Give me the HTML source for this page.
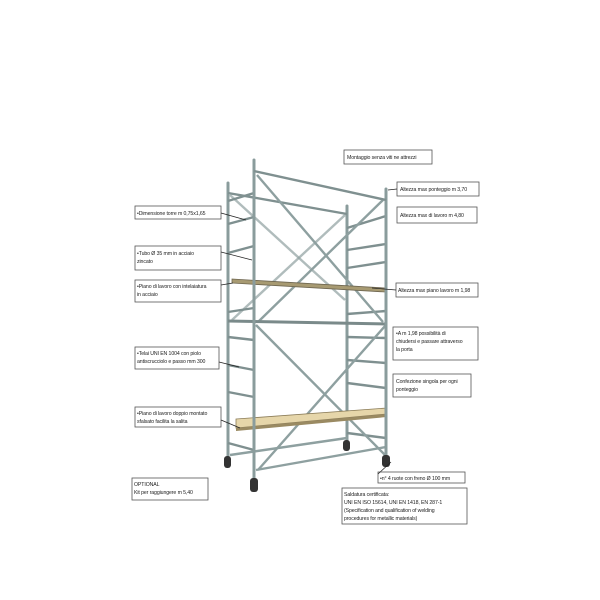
<!DOCTYPE html>
<html><head><meta charset="utf-8"><style>
html,body{margin:0;padding:0;background:#fff;}
svg{display:block}
text{font-family:"Liberation Sans",sans-serif;font-size:5.2px;letter-spacing:-0.1px;fill:#222;}
.b{fill:#fff;stroke:#555;stroke-width:0.8}
.p{stroke:#8a9c9c;stroke-width:3;stroke-linecap:round;fill:none}
.r{stroke:#7f9090;stroke-width:2.4;fill:none}
.d{stroke:#8ea0a0;stroke-width:2.4;fill:none}
.a{stroke:#222;stroke-width:0.7;fill:none}
</style></head><body>
<svg width="600" height="600" viewBox="0 0 600 600">
<line class="d" x1="230" y1="195" x2="345" y2="300" opacity="0.7"/>
<line class="d" x1="345" y1="215" x2="232" y2="320" opacity="0.7"/>
<line class="p" x1="228" y1="183" x2="228" y2="456"/>
<line class="p" x1="347" y1="206" x2="347" y2="443"/>
<line class="r" x1="228" y1="193" x2="347" y2="214"/>
<g class="r">
<line x1="228" y1="201" x2="254" y2="193"/><line x1="228" y1="224" x2="254" y2="217"/>
<line x1="228" y1="253" x2="254" y2="246"/><line x1="228" y1="312" x2="254" y2="308"/>
<line x1="228" y1="337" x2="254" y2="340"/><line x1="228" y1="365" x2="254" y2="370"/>
<line x1="228" y1="392" x2="254" y2="397"/><line x1="228" y1="443" x2="254" y2="450"/>
</g>
<g class="r">
<line x1="347" y1="228" x2="386" y2="216"/><line x1="347" y1="250" x2="386" y2="244"/>
<line x1="347" y1="268" x2="386" y2="262"/><line x1="347" y1="314" x2="386" y2="311"/>
<line x1="347" y1="337" x2="386" y2="338"/><line x1="347" y1="360" x2="386" y2="363"/>
<line x1="347" y1="383" x2="386" y2="388"/><line x1="347" y1="433" x2="386" y2="438"/>
</g>
<g class="d">
<line x1="257" y1="175" x2="383" y2="322"/><line x1="383" y1="200" x2="258" y2="322"/>
<line x1="256" y1="325" x2="385" y2="455"/><line x1="385" y1="326" x2="258" y2="470"/>
<line x1="256" y1="470" x2="386" y2="447"/><line x1="230" y1="455" x2="347" y2="438"/>
</g>
<line x1="228" y1="321" x2="386" y2="324" stroke="#7a8a8a" stroke-width="3"/>
<polygon points="232,279 385,288 385,292 232,283" fill="#a79a72" stroke="#6e6650" stroke-width="0.8"/>
<polygon points="236,419 387,408 387,414 236,428" fill="#e6d6aa" stroke="#8b7c58" stroke-width="0.8"/>
<polygon points="236,428 387,414 387,417 236,431" fill="#9a8a62"/>
<line class="p" x1="254" y1="160" x2="254" y2="478"/>
<line class="p" x1="386" y1="189" x2="386" y2="455"/>
<line class="r" x1="254" y1="171" x2="386" y2="200"/>
<g fill="#333">
<rect x="250" y="478" width="8" height="14" rx="3"/><rect x="224" y="456" width="7" height="12" rx="3"/>
<rect x="343" y="440" width="7" height="11" rx="3"/><rect x="382" y="455" width="8" height="12" rx="3"/>
</g>
<rect class="b" x="344" y="150" width="88" height="14"/><text x="347" y="159">Montaggio senza viti ne attrezzi</text>
<rect class="b" x="397" y="182" width="82" height="14"/><text x="400" y="191">Altezza max ponteggio m 3,70</text>
<line class="a" x1="397" y1="189" x2="388" y2="190"/>
<rect class="b" x="397" y="207" width="80" height="16"/><text x="400" y="217">Altezza max di lavoro m 4,80</text>
<rect class="b" x="135" y="206" width="86" height="13"/><text x="137" y="215">•Dimensione torre m 0,75x1,65</text>
<line class="a" x1="221" y1="213" x2="246" y2="220"/>
<rect class="b" x="135" y="246" width="86" height="24"/><text x="137" y="255">•Tubo Ø 35 mm in acciaio</text><text x="137" y="263">zincato</text>
<line class="a" x1="221" y1="252" x2="252" y2="260"/>
<rect class="b" x="135" y="280" width="86" height="22"/><text x="137" y="288">•Piano di lavoro con intelaiatura</text><text x="137" y="296">in acciaio</text>
<line class="a" x1="221" y1="285" x2="233" y2="283"/>
<rect class="b" x="396" y="283" width="82" height="14"/><text x="398" y="292">Altezza max piano lavoro m 1,98</text>
<line class="a" x1="396" y1="290" x2="372" y2="288"/>
<rect class="b" x="393" y="327" width="85" height="33"/><text x="396" y="335">•A m 1,98 possibilità di</text><text x="396" y="343">chiudersi e passare attraverso</text><text x="396" y="351">la porta</text>
<rect class="b" x="393" y="374" width="78" height="23"/><text x="396" y="383">Confezione singola per ogni</text><text x="396" y="391">ponteggio</text>
<rect class="b" x="135" y="347" width="84" height="22"/><text x="137" y="355">•Telai UNI EN 1004 con piolo</text><text x="137" y="363">antiscrucciolo e passo mm 300</text>
<line class="a" x1="219" y1="362" x2="239" y2="367"/>
<rect class="b" x="135" y="407" width="86" height="20"/><text x="137" y="415">•Piano di lavoro doppio montato</text><text x="137" y="423">sfalsato facilita la salita</text>
<line class="a" x1="221" y1="420" x2="240" y2="428"/>
<rect class="b" x="378" y="472" width="87" height="11"/><text x="380" y="480">•n° 4 ruote con freno Ø 100 mm</text>
<line class="a" x1="378" y1="474" x2="391" y2="462"/>
<rect class="b" x="132" y="478" width="76" height="22"/><text x="134" y="486">OPTIONAL</text><text x="134" y="494">Kit per raggiungere m 5,40</text>
<rect class="b" x="342" y="488" width="125" height="36"/>
<text x="344" y="496">Saldatura certificata:</text><text x="344" y="504">UNI EN ISO 15614, UNI EN 1418, EN 287-1</text>
<text x="344" y="512">(Specification and qualification of welding</text><text x="344" y="520">procedures for metallic materials)</text>
</svg>
</body></html>
